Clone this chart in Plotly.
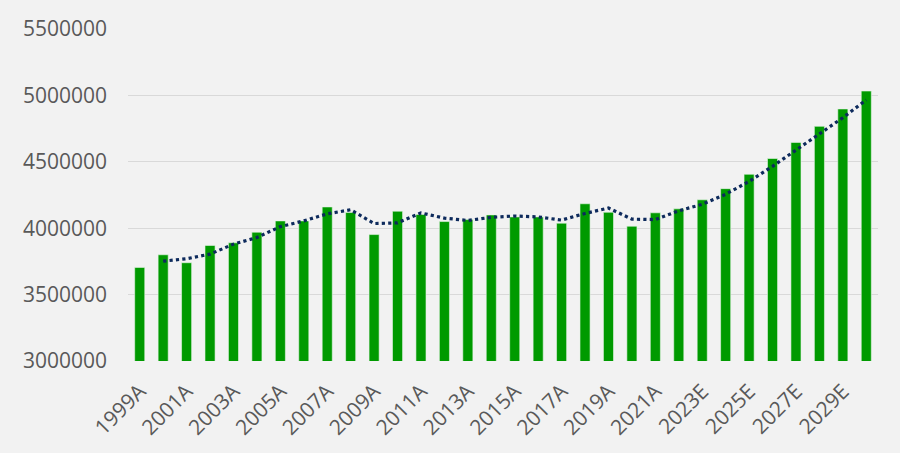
import plotly.graph_objects as go

# years with actual (A) / estimate (E) suffix
years = [
    "1999A", "2000A", "2001A", "2002A", "2003A", "2004A", "2005A", "2006A",
    "2007A", "2008A", "2009A", "2010A", "2011A", "2012A", "2013A", "2014A",
    "2015A", "2016A", "2017A", "2018A", "2019A", "2020A", "2021A", "2022A",
    "2023E", "2024E", "2025E", "2026E", "2027E", "2028E", "2029E", "2030E",
]

values = [
    3705000, 3800000, 3740000, 3870000, 3890000, 3970000, 4055000, 4055000,
    4160000, 4118000, 3952000, 4128000, 4103000, 4050000, 4065000, 4100000,
    4085000, 4085000, 4038000, 4184000, 4120000, 4015000, 4116000, 4146000,
    4214000, 4298000, 4406000, 4525000, 4646000, 4767000, 4898000, 5033000,
]

# 2-period moving average trendline (starts at 2000)
trend_years = years[1:]
trend = [
    3752000, 3770000, 3805000, 3880000, 3930000, 4012000, 4055000, 4108000,
    4139000, 4035000, 4040000, 4115000, 4076000, 4058000, 4082000, 4092000,
    4085000, 4061000, 4111000, 4152000, 4068000, 4065000, 4131000, 4180000,
    4256000, 4352000, 4466000, 4586000, 4706000, 4832000, 4966000,
]

y_ticks = [3000000, 3500000, 4000000, 4500000, 5000000, 5500000]

fig = go.Figure()
fig.add_trace(go.Bar(
    x=years, y=values,
    marker=dict(color="#009a00", line=dict(color="#e8f5e8", width=0.6)),
    showlegend=False,
))
fig.add_trace(go.Scatter(
    x=trend_years, y=trend, mode="lines",
    line=dict(color="#0d2a5c", width=3.2, dash="dot"),
    showlegend=False,
))

fig.update_layout(
    width=900, height=453,
    paper_bgcolor="#f2f2f2", plot_bgcolor="#f2f2f2",
    margin=dict(l=128, r=22, t=29, b=92),
    bargap=0.57,
    font=dict(family="Open Sans", size=21, color="#595959"),
)
fig.update_xaxes(
    type="category",
    tickmode="array", tickvals=years[::2], ticktext=years[::2],
    tickangle=-45, showgrid=False, showline=False, ticks="",
    ticklabelstandoff=13,
    tickfont=dict(size=21, color="#595959"),
)
fig.update_yaxes(
    range=[3000000, 5500000], tickvals=y_ticks,
    tickformat="d", showgrid=True, gridcolor="#d9d9d9", gridwidth=1,
    zeroline=False, showline=False, ticks="", ticklabelstandoff=20,
    tickfont=dict(size=21, color="#595959"),
)

# drop the default page margin so the figure sits flush in the window
fig.write_html(
    "out.html",
    config={"displayModeBar": False},
    post_script="document.body.style.margin='0';",
)
